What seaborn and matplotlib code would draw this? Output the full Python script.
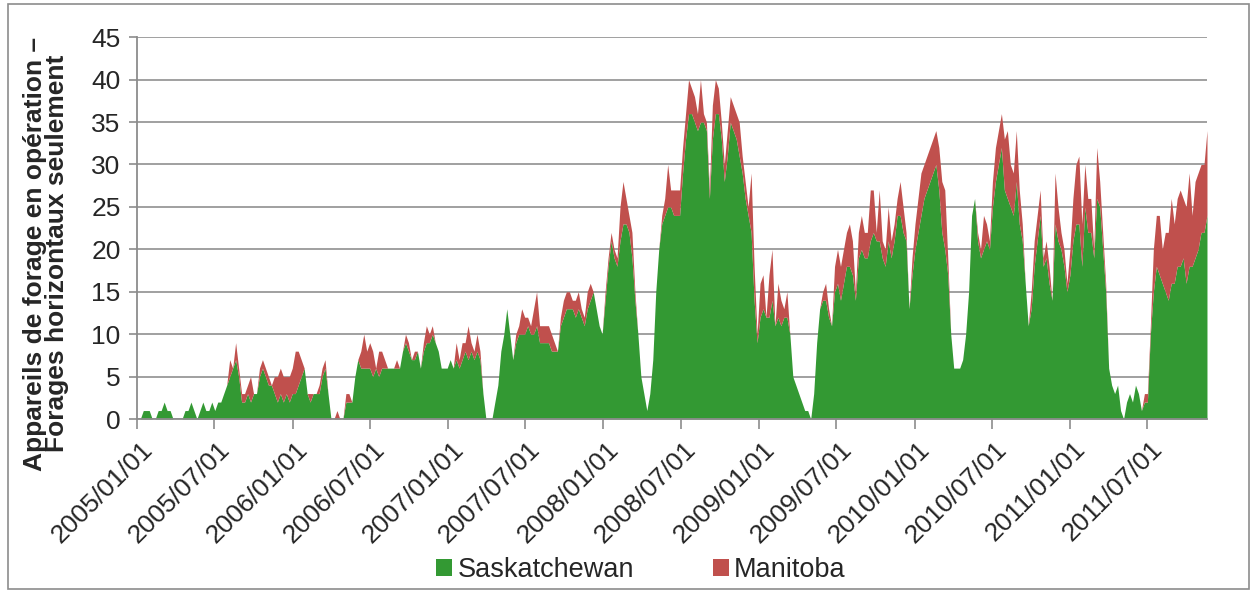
import numpy as np
import pandas as pd
import seaborn as sns
import matplotlib.pyplot as plt
import matplotlib.dates as mdates
from matplotlib.patches import Rectangle
from matplotlib.transforms import ScaledTranslation

# weekly rig counts, first week 2005/01/01
start_date = "2005-01-01"
saskatchewan = [
    0, 0, 1, 1, 1, 0, 0, 1, 1, 2,
    1, 1, 0, 0, 0, 0, 1, 1, 2, 1,
    0, 1, 2, 1, 1, 2, 1, 2, 2, 3,
    4, 5, 6, 7, 5, 2, 2, 3, 2, 3,
    3, 5, 6, 5, 4, 4, 3, 2, 3, 2,
    3, 2, 3, 3, 4, 5, 6, 3, 2, 3,
    3, 3, 5, 6, 3, 0, 0, 0, 0, 0,
    2, 2, 2, 5, 7, 6, 6, 6, 6, 5,
    6, 5, 6, 6, 6, 6, 6, 6, 6, 8,
    9, 8, 7, 7, 8, 6, 8, 9, 9, 10,
    9, 8, 6, 6, 6, 7, 6, 7, 6, 7,
    8, 7, 8, 7, 8, 7, 3, 0, 0, 0,
    2, 4, 8, 10, 13, 10, 7, 9, 10, 10,
    10, 11, 10, 10, 11, 9, 9, 9, 9, 8,
    8, 8, 11, 12, 13, 13, 13, 12, 13, 12,
    11, 13, 14, 15, 13, 11, 10, 14, 18, 21,
    19, 18, 21, 23, 23, 22, 19, 14, 10, 5,
    3, 1, 3, 7, 15, 20, 23, 24, 25, 25,
    24, 24, 24, 29, 33, 36, 36, 35, 34, 35,
    35, 34, 26, 33, 36, 36, 33, 28, 31, 35,
    34, 33, 31, 29, 26, 24, 22, 14, 9, 12,
    13, 12, 12, 14, 11, 12, 11, 12, 12, 10,
    5, 4, 3, 2, 1, 1, 0, 3, 9, 13,
    14, 14, 12, 11, 15, 16, 14, 16, 18, 18,
    17, 14, 19, 20, 19, 19, 21, 22, 21, 21,
    19, 18, 21, 19, 21, 24, 24, 22, 21, 13,
    17, 20, 22, 24, 26, 27, 28, 29, 30, 27,
    22, 20, 17, 10, 6, 6, 6, 7, 10, 15,
    24, 26, 21, 19, 20, 21, 20, 25, 28, 30,
    32, 27, 26, 25, 24, 28, 23, 21, 16, 11,
    13, 18, 21, 24, 18, 19, 16, 14, 23, 21,
    20, 18, 15, 17, 21, 23, 23, 18, 25, 22,
    22, 19, 26, 25, 20, 15, 6, 4, 3, 4,
    1, 0, 2, 3, 2, 4, 3, 1, 2, 2,
    10, 15, 18, 17, 16, 15, 14, 16, 16, 18,
    18, 19, 16, 18, 18, 19, 20, 22, 22, 24,
]
manitoba = [
    0, 0, 0, 0, 0, 0, 0, 0, 0, 0,
    0, 0, 0, 0, 0, 0, 0, 0, 0, 0,
    0, 0, 0, 0, 0, 0, 0, 0, 0, 0,
    0, 2, 0, 2, 1, 1, 1, 1, 3, 0,
    0, 1, 1, 1, 1, 0, 2, 3, 3, 3,
    2, 3, 3, 5, 4, 2, 0, 0, 1, 0,
    0, 1, 1, 1, 0, 0, 0, 1, 0, 0,
    1, 1, 0, 0, 0, 2, 4, 2, 3, 3,
    0, 3, 2, 1, 0, 0, 0, 1, 0, 0,
    1, 1, 0, 1, 0, 0, 1, 2, 1, 1,
    0, 0, 0, 0, 0, 0, 0, 2, 1, 2,
    1, 4, 1, 1, 2, 1, 0, 0, 0, 0,
    0, 0, 0, 0, 0, 0, 0, 1, 1, 3,
    2, 1, 1, 3, 4, 2, 2, 2, 2, 2,
    1, 0, 1, 2, 2, 2, 1, 2, 2, 1,
    1, 2, 2, 0, 0, 0, 0, 1, 1, 1,
    1, 1, 4, 5, 3, 2, 3, 1, 0, 0,
    0, 0, 0, 0, 0, 0, 1, 2, 5, 2,
    3, 3, 3, 3, 3, 4, 3, 3, 2, 5,
    1, 1, 1, 4, 4, 3, 2, 2, 3, 3,
    3, 3, 4, 2, 2, 1, 7, 4, 1, 4,
    4, 0, 5, 6, 0, 4, 3, 1, 3, 0,
    0, 0, 0, 0, 0, 0, 0, 0, 0, 0,
    1, 2, 1, 0, 3, 4, 4, 4, 4, 5,
    4, 1, 3, 4, 3, 3, 6, 5, 1, 6,
    2, 2, 4, 2, 2, 2, 4, 3, 1, 0,
    2, 3, 4, 5, 4, 4, 4, 4, 4, 5,
    6, 7, 2, 0, 0, 0, 0, 0, 0, 0,
    0, 0, 1, 1, 4, 2, 1, 3, 4, 4,
    4, 6, 8, 5, 5, 6, 4, 2, 0, 0,
    2, 3, 3, 3, 1, 2, 2, 0, 6, 4,
    2, 2, 1, 3, 5, 7, 8, 5, 5, 4,
    4, 1, 6, 3, 2, 1, 0, 0, 0, 0,
    0, 0, 0, 0, 0, 0, 0, 0, 1, 1,
    1, 5, 6, 7, 4, 7, 8, 10, 7, 8,
    9, 7, 9, 11, 6, 9, 9, 8, 8, 10,
]
labels = ["Saskatchewan", "Manitoba"]
colors = ["#339933", "#C0504D"]
ylabel = "Appareils de forage en opération –\nForages horizontaux seulement"

df = pd.DataFrame({
    "date": pd.date_range(start_date, periods=len(saskatchewan), freq="7D"),
    "Saskatchewan": saskatchewan,
    "Manitoba": manitoba,
})

sns.set_theme(style="white")
plt.rcParams["font.family"] = ["Liberation Sans", "DejaVu Sans"]

fig = plt.figure(figsize=(12.54, 5.91), dpi=100)
ax = fig.add_axes([0.1095, 0.291, 0.8530, 0.646])

ax.stackplot(df["date"], df["Saskatchewan"], df["Manitoba"],
             labels=labels, colors=colors, linewidth=0)

ax.set_ylim(0, 45)
ax.set_yticks(range(0, 50, 5))
ax.set_xlim(df["date"].iloc[0], df["date"].iloc[-1])
ax.xaxis.set_major_locator(mdates.MonthLocator(bymonth=[1, 7]))
ax.xaxis.set_major_formatter(mdates.DateFormatter("%Y/%m/%d"))

ax.grid(axis="y", color="#999999", linewidth=1.3)
ax.set_axisbelow(True)
sns.despine(ax=ax)
for s in ["left", "bottom"]:
    ax.spines[s].set_color("#8c8c8c")
    ax.spines[s].set_linewidth(1.3)

ax.tick_params(axis="y", length=6, width=1.2, color="#8c8c8c",
               labelsize=19, pad=6, left=True)
ax.tick_params(axis="x", length=7, width=1.2, color="#8c8c8c",
               labelsize=19, pad=6, bottom=True)
shift = ScaledTranslation(3 / 100, 0, fig.dpi_scale_trans)
for lab in ax.get_xticklabels():
    lab.set_rotation(45)
    lab.set_ha("right")
    lab.set_va("top")
    lab.set_rotation_mode("anchor")
    lab.set_transform(lab.get_transform() + shift)

ax.set_ylabel(ylabel, fontsize=19, fontweight="bold", linespacing=0.9)
ax.yaxis.set_label_coords(-0.064, 0.433)

fig.legend(loc="center", bbox_to_anchor=(0.511, 0.036), ncol=2, frameon=False,
           fontsize=19.5, handlelength=0.6, handleheight=0.6, handletextpad=0.2,
           columnspacing=2.9)

fig.patches.append(Rectangle((0.006, 0.004), 0.99, 0.99, transform=fig.transFigure,
                             fill=False, edgecolor="#8c8c8c", linewidth=1.2))

fig.savefig("out.png", dpi=100)
